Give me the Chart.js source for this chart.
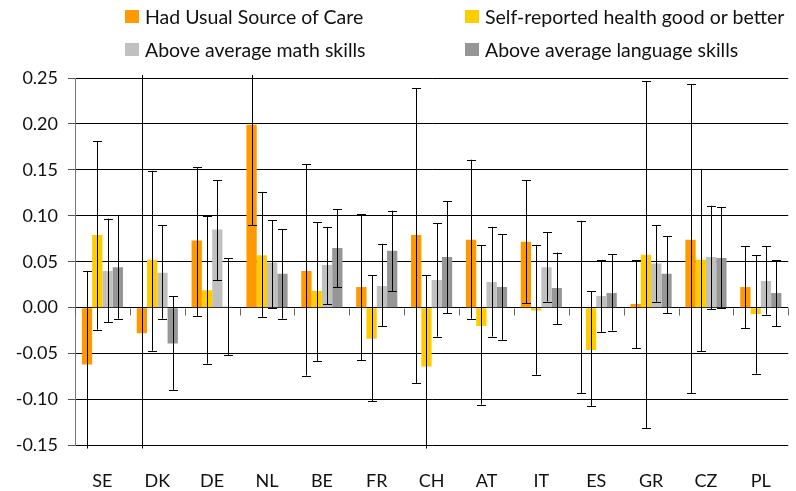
<!DOCTYPE html>
<html>
<head>
<meta charset="utf-8">
<script src="https://cdn.jsdelivr.net/npm/chart.js@4.4.0/dist/chart.umd.min.js"></script>
<style>
    html, body { margin: 0; padding: 0; background: #fff; }
    #wrap { position: relative; width: 796px; height: 491px; }
    #legend { position: absolute; left: 0; top: 0; width: 796px; height: 70px; font-family: Lato, sans-serif; font-size: 19.5px; color: #111; }
    .item { position: absolute; white-space: nowrap; height: 24px; display: flex; align-items: center; }
    .item span.box { display: inline-block; width: 14px; height: 13px; margin-right: 6px; }
</style>
</head>
<body>
<div id="wrap">
    <canvas id="chart" width="796" height="491"></canvas>
    <div id="legend"></div>
</div>
<script>
// Países
const countries = ['SE', 'DK', 'DE', 'NL', 'BE', 'FR', 'CH', 'AT', 'IT', 'ES', 'GR', 'CZ', 'PL'];

const seriesNames = [
    'Had Usual Source of Care',
    'Self-reported health good or better',
    'Above average math skills',
    'Above average language skills'
];
const seriesColors = ['#FF9900', '#FFCC00', '#C0C0C0', '#969696'];

// Valores
const usualCare = [-0.062, -0.028, 0.073, 0.199, 0.040, 0.0225, 0.079, 0.074, 0.0716, 0.0005, 0.004, 0.074, 0.0225];
const healthGood = [0.079, 0.052, 0.019, 0.057, 0.018, -0.034, -0.064, -0.020, -0.003, -0.046, 0.0575, 0.052, -0.007];
const mathSkills = [0.040, 0.038, 0.085, 0.049, 0.0465, 0.0236, 0.030, 0.028, 0.044, 0.0127, 0.048, 0.055, 0.029];
const langSkills = [0.044, -0.039, 0.001, 0.037, 0.065, 0.062, 0.055, 0.0225, 0.0215, 0.016, 0.037, 0.054, 0.016];

// Intervalos (inferior / superior)
const usualCareLow = [-0.164, -0.20, -0.009, 0.0895, -0.074, -0.057, -0.082, -0.012, 0.0047, -0.093, -0.044, -0.093, -0.022];
const usualCareHigh = [0.040, 0.30, 0.153, 0.31, 0.156, 0.1015, 0.239, 0.161, 0.1385, 0.0945, 0.0516, 0.243, 0.067];
const healthGoodLow = [-0.024, -0.047, -0.061, -0.010, -0.058, -0.102, -0.17, -0.1055, -0.073, -0.107, -0.131, -0.0476, -0.072];
const healthGoodHigh = [0.181, 0.149, 0.0996, 0.126, 0.093, 0.035, 0.035, 0.068, 0.068, 0.018, 0.2465, 0.151, 0.057];
const mathSkillsLow = [-0.016, -0.012, 0.030, 0.0, 0.0036, -0.020, -0.0316, -0.0316, 0.0065, -0.0265, 0.0065, -0.0015, -0.0076];
const mathSkillsHigh = [0.097, 0.0895, 0.1385, 0.095, 0.088, 0.0695, 0.092, 0.088, 0.082, 0.0516, 0.0895, 0.111, 0.067];
const langSkillsLow = [-0.012, -0.0895, -0.052, -0.012, 0.0225, 0.018, -0.006, -0.035, -0.018, -0.025, -0.006, 0.0, -0.020];
const langSkillsHigh = [0.101, 0.0127, 0.054, 0.0855, 0.107, 0.1055, 0.1156, 0.080, 0.060, 0.058, 0.078, 0.1095, 0.0516];

const yTicks = [-0.15, -0.10, -0.05, 0.00, 0.05, 0.10, 0.15, 0.20, 0.25];

const seriesValues = [usualCare, healthGood, mathSkills, langSkills];
const seriesLow = [usualCareLow, healthGoodLow, mathSkillsLow, langSkillsLow];
const seriesHigh = [usualCareHigh, healthGoodHigh, mathSkillsHigh, langSkillsHigh];

// Legenda em HTML (2 colunas)
const legendPos = [[125, 4], [465, 4], [125, 37], [465, 37]];
const legend = document.getElementById('legend');
seriesNames.forEach((name, i) => {
    const div = document.createElement('div');
    div.className = 'item';
    div.style.left = legendPos[i][0] + 'px';
    div.style.top = legendPos[i][1] + 'px';
    div.innerHTML = `<span class="box" style="background:${seriesColors[i]}"></span>${name}`;
    legend.appendChild(div);
});

// Barras de erro
const errorBars = {
    id: 'errorBars',
    afterDatasetsDraw(chart) {
        const ctx = chart.ctx;
        const y = chart.scales.y;
        const area = chart.chartArea;
        ctx.save();
        ctx.beginPath();
        ctx.rect(area.left, area.top - 3, area.right - area.left, area.bottom - area.top + 6);
        ctx.clip();
        ctx.strokeStyle = '#000';
        ctx.lineWidth = 1;
        chart.data.datasets.forEach((ds, di) => {
            const meta = chart.getDatasetMeta(di);
            meta.data.forEach((bar, i) => {
                const x = Math.round(bar.x) + 0.5;
                const y1 = y.getPixelForValue(seriesLow[di][i]);
                const y2 = y.getPixelForValue(seriesHigh[di][i]);
                ctx.beginPath();
                ctx.moveTo(x, y1);
                ctx.lineTo(x, y2);
                ctx.moveTo(x - 4.5, Math.round(y1) + 0.5);
                ctx.lineTo(x + 4.5, Math.round(y1) + 0.5);
                ctx.moveTo(x - 4.5, Math.round(y2) + 0.5);
                ctx.lineTo(x + 4.5, Math.round(y2) + 0.5);
                ctx.stroke();
            });
        });
        ctx.restore();
    }
};

// Marcas do eixo x na linha do zero
const zeroTicks = {
    id: 'zeroTicks',
    afterDatasetsDraw(chart) {
        const ctx = chart.ctx;
        const xs = chart.scales.x;
        const y0 = Math.round(chart.scales.y.getPixelForValue(0)) + 0.5;
        const area = chart.chartArea;
        ctx.save();
        ctx.strokeStyle = '#666';
        ctx.lineWidth = 1;
        ctx.beginPath();
        for (let i = 0; i <= countries.length; i++) {
            let x;
            if (i === 0) x = area.left;
            else if (i === countries.length) x = area.right;
            else x = (xs.getPixelForValue(i - 1) + xs.getPixelForValue(i)) / 2;
            x = Math.round(x) + 0.5;
            ctx.moveTo(x, y0);
            ctx.lineTo(x, y0 + 7);
        }
        ctx.stroke();
        ctx.restore();
    }
};

const chart = new Chart(document.getElementById('chart').getContext('2d'), {
    type: 'bar',
    data: {
        labels: countries,
        datasets: seriesNames.map((name, i) => ({
            label: name,
            data: seriesValues[i],
            backgroundColor: seriesColors[i],
            borderWidth: 0
        }))
    },
    options: {
        responsive: false,
        animation: false,
        categoryPercentage: 0.75,
        barPercentage: 1,
        layout: { padding: { top: 78, right: 4, left: 0, bottom: -26 } },
        plugins: {
            legend: { display: false },
            tooltip: { enabled: false }
        },
        scales: {
            x: {
                grid: { display: false, drawTicks: false },
                border: { display: false },
                ticks: { color: '#111', font: { family: 'Lato', size: 18 }, padding: 25 }
            },
            y: {
                min: -0.15,
                max: 0.25,
                afterBuildTicks: (s) => { s.ticks = yTicks.map(v => ({ value: v })); },
                grid: { color: '#000', lineWidth: 1, tickLength: 7, tickColor: '#555' },
                border: { display: true, color: '#777', width: 1 },
                ticks: {
                    color: '#111',
                    font: { family: 'Lato', size: 18 },
                    padding: 10,
                    callback: (v) => v.toFixed(2)
                },
                afterFit: (s) => { s.width = 75; }
            }
        }
    },
    plugins: [errorBars, zeroTicks]
});
</script>
</body>
</html>
